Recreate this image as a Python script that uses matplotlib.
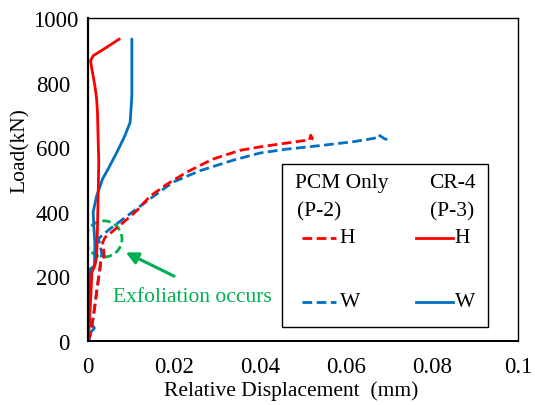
import matplotlib
matplotlib.use("Agg")
import matplotlib.pyplot as plt
import matplotlib.transforms as mtransforms
from matplotlib.patches import Ellipse, Rectangle

# ---------------------------------------------------------------
# Data : load (kN) vs relative displacement (mm)
# ---------------------------------------------------------------

# PCM Only (P-2), H direction (dashed red)
pcm_h_x = [0, 0.0005, 0.0016, 0.0024, 0.0030, 0.0038, 0.0036, 0.0034, 0.0040, 0.0055,
           0.0082, 0.0113, 0.0144, 0.0183, 0.0230, 0.0290, 0.0353, 0.0400, 0.0447,
           0.0500, 0.0515, 0.0518, 0.0522, 0.0535]
pcm_h_y = [0, 16, 109, 192, 250, 262, 285, 305, 321, 337,
           367, 403, 448, 485, 523, 563, 590, 601, 610,
           620, 622, 637, 626, 624]

# PCM Only (P-2), W direction (dashed blue)
pcm_w_x = [0, 0.0003, 0.0012, 0.0020, 0.0028, 0.0032, 0.0028, 0.0024, 0.0032, 0.0051,
           0.0082, 0.0113, 0.0144, 0.0198, 0.0260, 0.0338, 0.0400, 0.0462, 0.0540,
           0.0617, 0.0663, 0.0672, 0.0676, 0.0690, 0.0698]
pcm_w_y = [0, 6, 68, 151, 223, 269, 300, 316, 326, 347,
           378, 409, 440, 492, 527, 560, 582, 594, 605,
           617, 627, 630, 638, 626, 623]

# CR-4 (P-3), H direction (solid red)
cr4_h_x = [0, 0.0003, 0.0007, 0.0009, 0.0016, 0.0020, 0.0022, 0.0024, 0.0025, 0.0024,
           0.0022, 0.0020, 0.0016, 0.0009, 0.0006, 0.0012, 0.0043, 0.0073]
cr4_h_y = [0, 50, 150, 213, 233, 260, 350, 471, 560, 605,
           708, 750, 790, 842, 868, 883, 909, 935]

# CR-4 (P-3), W direction (solid blue)
cr4_w_x = [0, 0.0002, 0.0015, 0.0004, 0.0003, 0.0005, 0.0015, 0.0016, 0.0014, 0.0012,
           0.0020, 0.0034, 0.0047, 0.0067, 0.0086, 0.0098, 0.0102, 0.0102]
cr4_w_y = [0, 20, 40, 60, 150, 223, 232, 300, 347, 399,
           449, 502, 533, 584, 636, 677, 759, 935]

x_ticks = [0, 0.02, 0.04, 0.06, 0.08, 0.1]
x_tick_labels = ["0", "0.02", "0.04", "0.06", "0.08", "0.1"]
y_ticks = [0, 200, 400, 600, 800, 1000]

RED = "#FF0000"
BLUE = "#0070C0"
GREEN = "#00B050"


def main():
    plt.rcParams["font.family"] = ["Liberation Serif", "DejaVu Serif"]
    fs = 15.5

    fig = plt.figure(figsize=(5.35, 4.06), dpi=100)
    ax = fig.add_axes([88 / 535, (406 - 342) / 406, 430 / 535, 323 / 406])

    # ---------------------------------------------------------------
    # Curves
    # ---------------------------------------------------------------
    lw = 2.0
    dash = (3.5, 1.6)
    ax.plot(cr4_w_x, cr4_w_y, color=BLUE, lw=lw, solid_capstyle="round")
    ax.plot(cr4_h_x, cr4_h_y, color=RED, lw=lw, solid_capstyle="round")
    ax.plot(pcm_w_x, pcm_w_y, color=BLUE, lw=lw, dashes=dash)
    ax.plot(pcm_h_x, pcm_h_y, color=RED, lw=lw, dashes=dash)

    # ---------------------------------------------------------------
    # Exfoliation annotation
    # ---------------------------------------------------------------
    circ = Ellipse((0.0037, 316), width=2 * 0.0042, height=2 * 56, fill=False,
                   edgecolor=GREEN, lw=2, linestyle=(0, (3, 1.5)))
    ax.add_patch(circ)
    ax.annotate("", xy=(0.0082, 278), xytext=(0.0206, 197),
                arrowprops=dict(arrowstyle="-|>", color=GREEN, lw=2.2,
                                mutation_scale=18))
    ax.text(0.0058, 139, "Exfoliation occurs", color=GREEN, fontsize=fs,
            ha="left", va="center")

    # ---------------------------------------------------------------
    # Axes
    # ---------------------------------------------------------------
    ax.set_xlim(0, 0.1)
    ax.set_ylim(0, 1000)
    ax.set_xticks(x_ticks)
    ax.set_xticklabels(x_tick_labels)
    ax.set_yticks(y_ticks)
    ax.tick_params(length=0, labelsize=16.5)
    ax.tick_params(axis="x", pad=11)
    ax.tick_params(axis="y", pad=13)
    ax.set_xlabel("Relative Displacement  (mm)", fontsize=fs)
    ax.set_ylabel("Load(kN)", fontsize=fs)
    ax.xaxis.set_label_coords(0.473, -0.122)
    ax.yaxis.set_label_coords(-0.135, 0.594)

    # Excel puts the "1000" label a little to the right of the others
    top_label = ax.get_yticklabels()[-1]
    top_label.set_transform(top_label.get_transform() +
                            mtransforms.ScaledTranslation(8 / 100, 0, fig.dpi_scale_trans))

    for s in ax.spines.values():
        s.set_color("#000000")
        s.set_linewidth(1.0)
    ax.spines["left"].set_linewidth(1.6)
    ax.spines["bottom"].set_linewidth(1.4)

    # ---------------------------------------------------------------
    # Legend (two columns, drawn by hand)
    # ---------------------------------------------------------------
    t = ax.transAxes
    ax.add_patch(Rectangle((0.451, 0.043), 0.479, 0.505, transform=t,
                           facecolor="white", edgecolor="black", lw=1.0, zorder=5))
    ax.text(0.481, 0.492, "PCM Only", transform=t, fontsize=fs, va="center", zorder=6)
    ax.text(0.486, 0.402, "(P-2)", transform=t, fontsize=fs, va="center", zorder=6)
    ax.text(0.793, 0.492, "CR-4", transform=t, fontsize=fs, va="center", zorder=6)
    ax.text(0.795, 0.402, "(P-3)", transform=t, fontsize=fs, va="center", zorder=6)

    ax.plot([0.498, 0.577], [0.319, 0.319], transform=t, color=RED, lw=lw,
            dashes=dash, zorder=6)
    ax.plot([0.498, 0.577], [0.121, 0.121], transform=t, color=BLUE, lw=lw,
            dashes=dash, zorder=6)
    ax.plot([0.763, 0.849], [0.319, 0.319], transform=t, color=RED, lw=lw, zorder=6)
    ax.plot([0.763, 0.849], [0.121, 0.121], transform=t, color=BLUE, lw=lw, zorder=6)
    ax.text(0.585, 0.319, "H", transform=t, fontsize=fs, va="center", zorder=6)
    ax.text(0.585, 0.121, "W", transform=t, fontsize=fs, va="center", zorder=6)
    ax.text(0.853, 0.319, "H", transform=t, fontsize=fs, va="center", zorder=6)
    ax.text(0.853, 0.121, "W", transform=t, fontsize=fs, va="center", zorder=6)

    fig.savefig("out.png", dpi=100)


if __name__ == "__main__":
    main()
